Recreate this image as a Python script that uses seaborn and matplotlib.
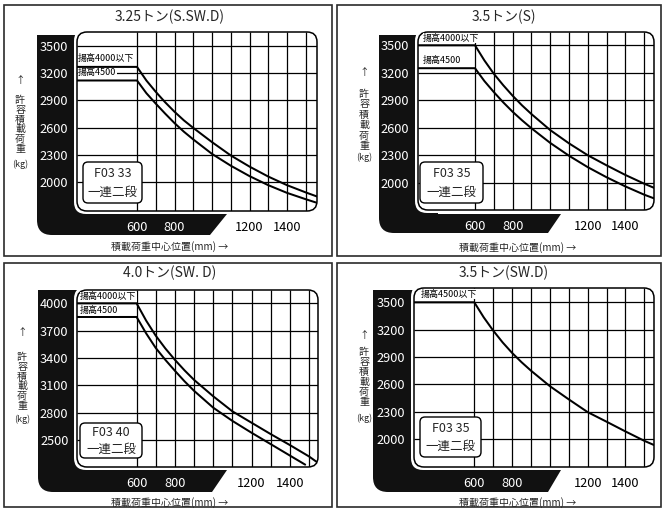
import numpy as np
import pandas as pd
import matplotlib
matplotlib.use("Agg")
import matplotlib.pyplot as plt
import seaborn as sns
from matplotlib.patches import FancyBboxPatch, Rectangle, PathPatch
from matplotlib.path import Path
from matplotlib.transforms import Affine2D

# ---------------- data ----------------
titles = ["3.25トン(S.SW.D)", "3.5トン(S)", "4.0トン(SW. D)", "3.5トン(SW.D)"]
codes = ["F03 33", "F03 35", "F03 40", "F03 35"]
box_sub = "一連二段"
xtick_vals = [600, 800, 1200, 1400]
xtick_labels = ["600", "800", "1200", "1400"]
xgrid = [600, 700, 800, 900, 1000, 1100, 1200, 1300, 1400, 1500]
yticks_35 = [3500, 3200, 2900, 2600, 2300, 2000]
yticks_40 = [4000, 3700, 3400, 3100, 2800, 2500]

# panel 1 : 3.25 t
x1 = [280, 600, 650, 700, 750, 800, 850, 900, 1000, 1100, 1200, 1300, 1400, 1500, 1560]
up1 = [3270, 3270, 3120, 2995, 2880, 2775, 2680, 2597, 2440, 2293, 2170, 2060, 1965, 1885, 1840]
lo1 = [3120, 3120, 2980, 2865, 2755, 2650, 2555, 2470, 2310, 2180, 2065, 1965, 1880, 1810, 1770]
# panel 2 : 3.5 t (S)
x2 = [297, 600, 650, 700, 750, 800, 850, 900, 1000, 1100, 1200, 1300, 1400, 1500, 1552]
up2 = [3500, 3500, 3335, 3190, 3065, 2950, 2845, 2750, 2575, 2430, 2300, 2190, 2085, 1990, 1945]
lo2 = [3250, 3250, 3110, 2990, 2878, 2775, 2682, 2595, 2435, 2295, 2170, 2060, 1960, 1870, 1830]
# panel 3 : 4.0 t
x3u = [289, 600, 650, 700, 750, 800, 850, 900, 1000, 1100, 1200, 1300, 1400, 1500, 1540]
up3 = [4000, 4000, 3810, 3645, 3505, 3380, 3265, 3160, 2980, 2815, 2690, 2565, 2445, 2320, 2260]
x3l = [289, 600, 650, 700, 750, 800, 850, 900, 1000, 1100, 1200, 1300, 1400, 1480]
lo3 = [3850, 3850, 3670, 3510, 3380, 3260, 3145, 3040, 2855, 2710, 2580, 2455, 2330, 2230]
# panel 4 : 3.5 t (SW.D)
x4 = [281, 600, 650, 700, 750, 800, 850, 900, 1000, 1100, 1200, 1300, 1400, 1500, 1550]
c4 = [3500, 3500, 3335, 3190, 3060, 2945, 2843, 2750, 2580, 2435, 2295, 2190, 2083, 1980, 1935]

series = [
    [("揚高4000以下", x1, up1), ("揚高4500", x1, lo1)],
    [("揚高4000以下", x2, up2), ("揚高4500", x2, lo2)],
    [("揚高4000以下", x3u, up3), ("揚高4500", x3l, lo3)],
    [("揚高4500以下", x4, c4)],
]
labels_txt = [["揚高4000以下", "揚高4500"], ["揚高4000以下", "揚高4500"],
              ["揚高4000以下", "揚高4500"], ["揚高4500以下"]]
yticks_all = [yticks_35, yticks_35, yticks_40, yticks_35]

# ---------------- layout (pixel geometry) ----------------
geo = [
    dict(frame=(4, 5, 332, 256), plot=(77, 32, 317, 211), xlim=(280, 1560), ylim=(1680, 3655),
         black=(37, 35, 235, 214, 227, 210), ylab_x=20, arrow_y=80, c0=100, cstep=9.8, kg_y=164,
         title=(170, 17), xlab=(170, 247), box=(83, 162, 142, 203),
         lab_pos=[(78, 58), (78, 73)]),
    dict(frame=(337, 5, 661, 256), plot=(418, 32, 654, 210), xlim=(297, 1552), ylim=(1703, 3645),
         black=(379, 35, 233, 214, 561, 548), ylab_x=364, arrow_y=72, c0=94, cstep=10.4, kg_y=157,
         title=(504, 17), xlab=(518, 248), box=(420, 162, 483, 203),
         lab_pos=[(423, 38), (423, 60)]),
    dict(frame=(4, 263, 332, 507), plot=(77, 290, 318, 467), xlim=(289, 1547), ylim=(2204, 4146),
         black=(38, 290, 492, 470, 227, 212), ylab_x=22, arrow_y=332, c0=357, cstep=9.8, kg_y=419,
         title=(170, 273), xlab=(170, 503), box=(80, 423, 142, 458),
         lab_pos=[(80, 297), (80, 311)]),
    dict(frame=(337, 263, 661, 507), plot=(414, 288, 654, 467), xlim=(281, 1551), ylim=(1693, 3657),
         black=(373, 290, 492, 470, 561, 548), ylab_x=364, arrow_y=335, c0=352, cstep=10.0, kg_y=418,
         title=(504, 273), xlab=(518, 503), box=(420, 417, 481, 457),
         lab_pos=[(421, 294)]),
]

sns.set_theme(style="white")
plt.rcParams["font.family"] = ["Noto Sans CJK JP", "DejaVu Sans"]

W, H = 663, 509
fig = plt.figure(figsize=(W / 100, H / 100), dpi=100)
fig.patch.set_facecolor("white")
T = Affine2D().scale(1 / 100, -1 / 100).translate(0, H / 100) + fig.dpi_scale_trans

ylab_chars = list("許容積載荷重")

for i, g in enumerate(geo):
    fl, ft, fr, fb = g["frame"]
    fig.patches.append(Rectangle((fl, ft), fr - fl, fb - ft, transform=T, fill=False,
                                 ec="#2b2b2b", lw=1.2, zorder=-5))
    l, t, r, b = g["plot"]
    ax = fig.add_axes([l / W, 1 - b / H, (r - l) / W, (b - t) / H])
    ax.set_facecolor("none")
    for s in ax.spines.values():
        s.set_visible(False)
    ax.set_xlim(*g["xlim"])
    ax.set_ylim(*g["ylim"])

    # black L-shaped background
    L, top, bot, bar_top, br_t, br_b = g["black"]
    rad = 15
    verts = [(L, top), (l + 20, top), (l + 20, bar_top), (br_t, bar_top), (br_b, bot),
             (L + rad, bot), (L, bot), (L, bot - rad), (L, top)]
    codes_p = [Path.MOVETO, Path.LINETO, Path.LINETO, Path.LINETO, Path.LINETO,
               Path.LINETO, Path.CURVE3, Path.CURVE3, Path.CLOSEPOLY]
    blk = PathPatch(Path(verts, codes_p), transform=T, fc="#111111", ec="none",
                    zorder=0.2, clip_on=False)
    ax.add_patch(blk)
    margin = FancyBboxPatch((l - 3, t - 3), r - l + 6, b - t + 6,
                            boxstyle="round,pad=0,rounding_size=12", transform=T,
                            fc="white", ec="none", zorder=0.4, clip_on=False)
    ax.add_patch(margin)
    plot_patch = FancyBboxPatch((l, t), r - l, b - t, boxstyle="round,pad=0,rounding_size=10",
                                transform=T, fc="white", ec="none", zorder=0.6, clip_on=False)
    ax.add_patch(plot_patch)

    # grid
    yt = yticks_all[i]
    vl = ax.vlines(xgrid, g["ylim"][0], g["ylim"][1], colors="black", lw=0.9, zorder=1.5)
    hl = ax.hlines(yt, g["xlim"][0], g["xlim"][1], colors="black", lw=0.9, zorder=1.5)
    vl.set_clip_path(plot_patch)
    hl.set_clip_path(plot_patch)

    # curves
    rows = []
    for name, xs, ys in series[i]:
        for xv, yv in zip(xs, ys):
            rows.append({"series": name, "x": xv, "y": yv})
    df = pd.DataFrame(rows)
    n0 = len(ax.lines)
    sns.lineplot(data=df, x="x", y="y", hue="series", units="series", estimator=None,
                 sort=False, palette={nm: "black" for nm in df["series"].unique()},
                 legend=False, lw=1.45, ax=ax, zorder=2)
    for ln in ax.lines[n0:]:
        ln.set_clip_path(plot_patch)
        ln.set_solid_joinstyle("round")
    ax.set_xlim(*g["xlim"])
    ax.set_ylim(*g["ylim"])

    border = FancyBboxPatch((l, t), r - l, b - t, boxstyle="round,pad=0,rounding_size=10",
                            transform=T, fill=False, ec="black", lw=1.1, zorder=3, clip_on=False)
    ax.add_patch(border)

    # ticks
    ax.set_xticks(xtick_vals)
    ax.set_xticklabels(xtick_labels)
    ax.set_yticks(yt)
    ax.set_yticklabels([str(v) for v in yt])
    ax.tick_params(axis="both", length=0)
    ax.tick_params(axis="y", pad=6.2, labelsize=9.2, labelcolor="white")
    ax.tick_params(axis="x", pad=12.2, labelsize=9.2)
    ax.set_xlabel("")
    ax.set_ylabel("")
    for lab in ax.get_xticklabels():
        lab.set_va("center")
    for lab, col in zip(ax.get_xticklabels(), ["white", "white", "black", "black"]):
        lab.set_color(col)

    # curve labels
    for txt, (px, py) in zip(labels_txt[i], g["lab_pos"]):
        ax.text(px, py, txt, transform=T, ha="left", va="center", fontsize=6.5,
                color="black", zorder=4, clip_on=False,
                bbox=dict(boxstyle="square,pad=0.05", fc="white", ec="none"))

    # model box
    bl, bt, br, bb = g["box"]
    ax.add_patch(FancyBboxPatch((bl, bt), br - bl, bb - bt, boxstyle="round,pad=0,rounding_size=5",
                                transform=T, fc="white", ec="black", lw=1.0, zorder=4,
                                clip_on=False))
    cx = (bl + br) / 2
    ax.text(cx, bt + (bb - bt) * 0.28, codes[i], transform=T, ha="center", va="center",
            fontsize=9, zorder=5)
    ax.text(cx, bt + (bb - bt) * 0.74, box_sub, transform=T, ha="center", va="center",
            fontsize=9, zorder=5)

    # title
    fig.text(g["title"][0] / W, 1 - g["title"][1] / H, titles[i], ha="center", va="center",
             fontsize=10)
    # x label
    fig.text(g["xlab"][0] / W, 1 - g["xlab"][1] / H, "積載荷重中心位置(mm) →", ha="center",
             va="center", fontsize=7.2)
    # y label stacked vertically
    yx = g["ylab_x"] / W
    fig.text(yx, 1 - g["arrow_y"] / H, "↑", ha="center", va="center", fontsize=7)
    for k, ch in enumerate(ylab_chars):
        fig.text(yx, 1 - (g["c0"] + k * g["cstep"]) / H, ch, ha="center", va="center",
                 fontsize=7.2)
    fig.text(yx, 1 - g["kg_y"] / H, "(kg)", ha="center", va="center", fontsize=6.5)

fig.savefig("out.png", dpi=100, facecolor="white")
